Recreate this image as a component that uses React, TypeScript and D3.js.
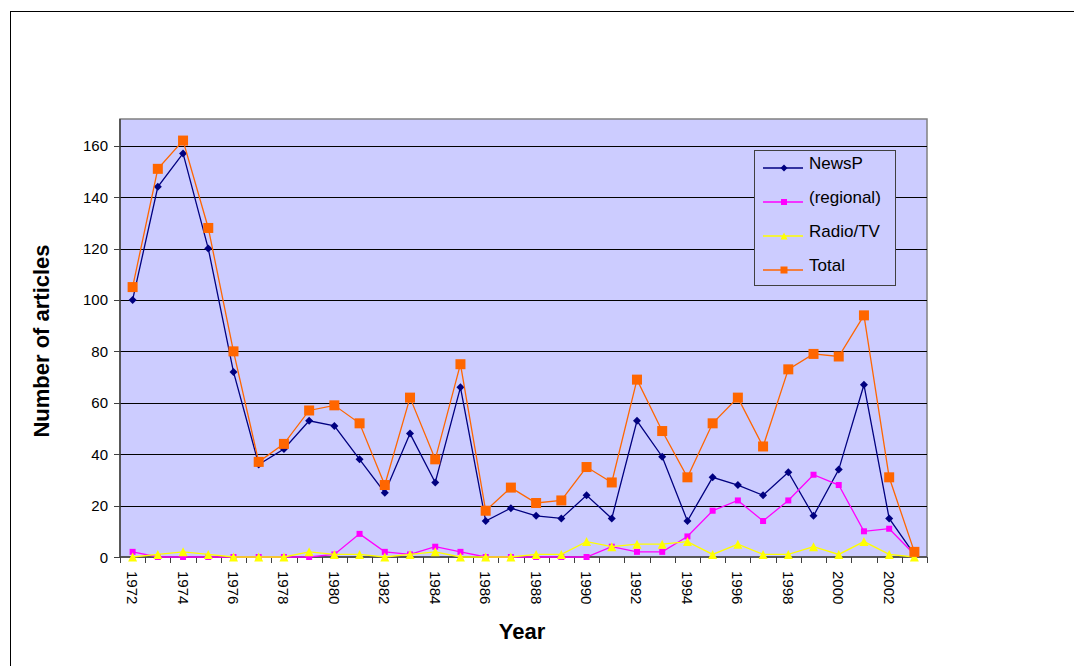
import React from "react";
import * as d3 from "d3";

const years: number[] = [
  1972, 1973, 1974, 1975, 1976, 1977, 1978, 1979, 1980, 1981, 1982, 1983, 1984, 1985, 1986, 1987,
  1988, 1989, 1990, 1991, 1992, 1993, 1994, 1995, 1996, 1997, 1998, 1999, 2000, 2001, 2002, 2003,
];
const newsP: number[] = [
  100, 144, 157, 120, 72, 36, 42, 53, 51, 38, 25, 48, 29, 66, 14, 19,
  16, 15, 24, 15, 53, 39, 14, 31, 28, 24, 33, 16, 34, 67, 15, 1,
];
const regional: number[] = [
  2, 0, 0, 0, 0, 0, 0, 0, 1, 9, 2, 1, 4, 2, 0, 0,
  0, 0, 0, 4, 2, 2, 8, 18, 22, 14, 22, 32, 28, 10, 11, 1,
];
const radioTV: number[] = [
  0, 1, 2, 1, 0, 0, 0, 2, 1, 1, 0, 1, 2, 0, 0, 0,
  1, 1, 6, 4, 5, 5, 6, 1, 5, 1, 1, 4, 1, 6, 1, 0,
];
const total: number[] = [
  105, 151, 162, 128, 80, 37, 44, 57, 59, 52, 28, 62, 38, 75, 18, 27,
  21, 22, 35, 29, 69, 49, 31, 52, 62, 43, 73, 79, 78, 94, 31, 2,
];
const yTicks: number[] = [0, 20, 40, 60, 80, 100, 120, 140, 160];
const seriesNames: string[] = ["NewsP", "(regional)", "Radio/TV", "Total"];

const FONT = "'Liberation Sans', Arial, Helvetica, sans-serif";

type Series = { name: string; values: number[]; color: string; marker: string; size: number };

const series: Series[] = [
  { name: seriesNames[0], values: newsP, color: "#000080", marker: "diamond", size: 8 },
  { name: seriesNames[1], values: regional, color: "#FF00FF", marker: "square", size: 6 },
  { name: seriesNames[2], values: radioTV, color: "#FFFF00", marker: "triangle", size: 9 },
  { name: seriesNames[3], values: total, color: "#FF6600", marker: "square", size: 10 },
];

function Marker({ type, x, y, size, color }: { type: string; x: number; y: number; size: number; color: string }) {
  const h = size / 2;
  if (type === "diamond") {
    return <path d={`M${x},${y - h} L${x + h},${y} L${x},${y + h} L${x - h},${y} Z`} fill={color} />;
  }
  if (type === "triangle") {
    return <path d={`M${x},${y - h} L${x + h},${y + h} L${x - h},${y + h} Z`} fill={color} />;
  }
  return <rect x={x - h} y={y - h} width={size} height={size} fill={color} />;
}

export default function App() {
  const W = 1074;
  const H = 666;
  const left = 120;
  const right = 927;
  const top = 119;
  const bottom = 557;

  const x = d3.scaleBand<number>().domain(years).range([left, right]).padding(0);
  const cx = (yr: number) => (x(yr) as number) + x.bandwidth() / 2;
  const y = d3.scaleLinear().domain([0, 170]).range([bottom, top + 1]);

  const line = d3
    .line<number>()
    .x((_, i) => cx(years[i]))
    .y((v) => y(v));

  const boundaries = years.map((yr) => x(yr) as number).concat([right]);

  const legendX = 754;
  const legendY = 150;
  const legendW = 141;
  const legendH = 135;
  const entryY0 = 168;
  const entryStep = 34;

  return (
    <svg
      width={W}
      height={H}
      style={{ position: "absolute", left: 0, top: 0, background: "#fff" }}
      fontFamily={FONT}
    >
      <rect x={0} y={0} width={W} height={H} fill="#fff" />
      <rect x={10.5} y={11.5} width={1200} height={800} fill="none" stroke="#000" strokeWidth={1} />

      {/* plot area */}
      <rect x={left} y={top} width={right - left} height={bottom - top} fill="#CCCCFF" stroke="#808080" strokeWidth={1.5} />

      {/* gridlines */}
      {yTicks.filter((t) => t > 0).map((t) => (
        <line key={`g${t}`} x1={left} x2={right} y1={Math.round(y(t)) + 0.5} y2={Math.round(y(t)) + 0.5} stroke="#000" strokeWidth={1} />
      ))}

      {/* axes */}
      <line x1={left} x2={left} y1={top} y2={bottom} stroke="#404040" strokeWidth={1.5} />
      <line x1={left} x2={right} y1={bottom} y2={bottom} stroke="#404040" strokeWidth={1.5} />

      {/* y ticks */}
      {yTicks.map((t) => (
        <g key={`yt${t}`}>
          <line x1={left - 6} x2={left} y1={Math.round(y(t)) + 0.5} y2={Math.round(y(t)) + 0.5} stroke="#404040" strokeWidth={1} />
          <text x={left - 12} y={y(t)} textAnchor="end" dominantBaseline="central" fontSize={15} fill="#000">
            {t}
          </text>
        </g>
      ))}

      {/* x ticks */}
      {boundaries.map((b, i) => (
        <line key={`xt${i}`} x1={Math.round(b) + 0.5} x2={Math.round(b) + 0.5} y1={bottom} y2={bottom + 6} stroke="#404040" strokeWidth={1} />
      ))}
      {years.filter((_, i) => i % 2 === 0).map((yr) => (
        <text
          key={`xl${yr}`}
          transform={`translate(${cx(yr)},${bottom + 14}) rotate(90)`}
          textAnchor="start"
          dominantBaseline="central"
          fontSize={15}
          fill="#000"
        >
          {yr}
        </text>
      ))}

      {/* series */}
      {series.map((s) => (
        <g key={s.name}>
          <path d={line(s.values) || ""} fill="none" stroke={s.color} strokeWidth={1.3} />
          {s.values.map((v, i) => (
            <Marker key={i} type={s.marker} x={cx(years[i])} y={y(v)} size={s.size} color={s.color} />
          ))}
        </g>
      ))}

      {/* legend */}
      <rect x={legendX + 0.5} y={legendY + 0.5} width={legendW} height={legendH} fill="#CCCCFF" stroke="#404040" strokeWidth={1} />
      {series.map((s, i) => {
        const ly = entryY0 + i * entryStep;
        return (
          <g key={`lg${s.name}`}>
            <line x1={763} x2={803} y1={ly} y2={ly} stroke={s.color} strokeWidth={1.3} />
            <Marker type={s.marker} x={784} y={ly} size={Math.min(s.size, 7)} color={s.color} />
            <text x={809} y={ly + 1} fontSize={17} fill="#000">
              {s.name}
            </text>
          </g>
        );
      })}

      {/* axis titles */}
      <text x={522} y={639} textAnchor="middle" fontSize={22} fontWeight="bold" fill="#000">
        Year
      </text>
      <text
        transform="translate(49,341) rotate(-90)"
        textAnchor="middle"
        fontSize={22}
        fontWeight="bold"
        fill="#000"
      >
        Number of articles
      </text>
    </svg>
  );
}
